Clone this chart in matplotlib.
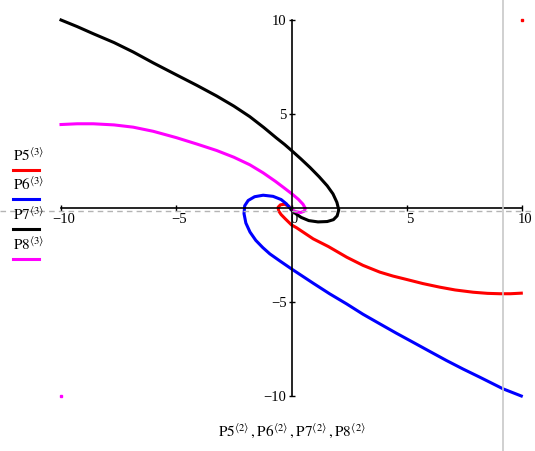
import numpy as np
import matplotlib.pyplot as plt
from matplotlib.lines import Line2D
from matplotlib.transforms import ScaledTranslation

plt.rcParams['font.family'] = ['Liberation Serif', 'DejaVu Serif']
plt.rcParams['mathtext.fontset'] = 'stix'

# curves (x, y)
p5_x = [0.0, -0.12, -0.3, -0.48, -0.58, -0.56, -0.45, -0.25, 0.0, 0.22, 0.94, 1.6, 2.4, 3.1, 3.83,
        4.4, 4.99, 5.7, 6.43, 7.1, 7.88, 8.5, 9.03, 9.5, 9.97]
p5_y = [-0.08, 0.1, 0.2, 0.17, 0.04, -0.15, -0.35, -0.6, -0.9, -1.05, -1.64, -2.05, -2.62, -3.05, -3.41,
        -3.62, -3.8, -4.02, -4.21, -4.36, -4.48, -4.54, -4.56, -4.56, -4.53]

p6_x = [0.0, -0.22, -0.45, -0.8, -1.23, -1.6, -1.88, -2.03, -2.06, -1.98, -1.8, -1.55, -1.25, -0.94,
        -0.5, 0.0, 0.94, 1.65, 2.39, 3.1, 3.83, 4.55, 5.27, 6.0, 6.72, 7.45, 8.17, 9.18, 9.97]
p6_y = [-0.1, 0.22, 0.45, 0.62, 0.68, 0.6, 0.4, 0.12, -0.3, -0.8, -1.28, -1.72, -2.1, -2.44,
        -2.82, -3.24, -4.0, -4.56, -5.1, -5.65, -6.16, -6.66, -7.14, -7.63, -8.11, -8.57, -9.0, -9.62, -10.0]

p7_x = [-10.0, -9.3, -8.6, -7.7, -6.87, -6.0, -4.99, -4.1, -3.25, -2.5, -1.81, -1.2, -0.65, -0.3, 0.0,
        0.4, 0.8, 1.2, 1.55, 1.8, 1.97, 2.05, 1.98, 1.82, 1.55, 1.15, 0.75, 0.42, 0.18, 0.05, 0.0]
p7_y = [10.0, 9.65, 9.27, 8.8, 8.3, 7.72, 7.08, 6.52, 5.96, 5.42, 4.86, 4.28, 3.72, 3.38, 3.06,
        2.62, 2.16, 1.66, 1.18, 0.75, 0.3, -0.1, -0.42, -0.62, -0.72, -0.74, -0.67, -0.5, -0.3, -0.15, -0.1]

p8_x = [-10.0, -9.3, -8.6, -7.7, -6.87, -6.0, -4.99, -4.1, -3.25, -2.5, -1.81, -1.23, -0.7, -0.3,
        0.05, 0.3, 0.5, 0.6, 0.55, 0.4, 0.2, 0.05]
p8_y = [4.44, 4.48, 4.48, 4.42, 4.3, 4.08, 3.74, 3.4, 3.06, 2.7, 2.3, 1.87, 1.42, 1.05,
        0.72, 0.46, 0.2, -0.02, -0.17, -0.24, -0.2, -0.12]

# single stray points
dot_red = (10, 10)
dot_mag = (-10, -10)

series = [('P5', p5_x, p5_y, '#ff0000'),
          ('P6', p6_x, p6_y, '#0000ff'),
          ('P7', p7_x, p7_y, '#000000'),
          ('P8', p8_x, p8_y, '#ff00ff')]

fig = plt.figure(figsize=(5.35, 4.51), dpi=100)
ax = fig.add_axes([61 / 535, 1 - 396 / 451, 461 / 535, 376 / 451])
ax.set_xlim(-10, 10)
ax.set_ylim(-10, 10)

for name, xs, ys, col in series:
    ax.plot(xs, ys, color=col, lw=2.2, clip_on=False, solid_joinstyle='round')

ax.plot(*dot_red, 's', color='#ff0000', ms=2, clip_on=False)
ax.plot(*dot_mag, 's', color='#ff00ff', ms=2, clip_on=False)

# axes through the origin, Mathcad style
for s in ['top', 'right']:
    ax.spines[s].set_visible(False)
ax.spines['left'].set_position(('data', 0))
ax.spines['bottom'].set_position(('data', 0))
ax.spines['left'].set_linewidth(1.2)
ax.spines['bottom'].set_linewidth(1.2)
ax.patch.set_visible(False)

ax.set_xticks([-10, -5, 0, 5, 10])
ax.set_xticklabels(['\u221210', '\u22125', '0', '5', '10'])
ax.set_yticks([-10, -5, 5, 10])
ax.set_yticklabels(['\u221210', '\u22125', '5', '10'])
ax.tick_params(axis='both', direction='inout', length=5, width=1, labelsize=10.5, pad=1)
for lab in ax.get_xticklabels():
    lab.set_transform(lab.get_transform() + ScaledTranslation(3 / 100, 0, fig.dpi_scale_trans))

# marker lines
fig.add_artist(Line2D([0, 1], [1 - 210.5 / 451] * 2, color='#b4b4b4', lw=1, ls=(0, (4, 3))))
fig.add_artist(Line2D([503.3 / 535] * 2, [0, 1], color='#c8c8c8', lw=1.2))

# legend on the left
leg_y = [161, 190, 220, 250]
for (name, xs, ys, col), yy in zip(series, leg_y):
    fig.text(13 / 535, 1 - yy / 451, r'$\mathrm{%s}^{\langle 3\rangle}$' % name,
             fontsize=11, va='baseline', ha='left')
    fig.add_artist(Line2D([13 / 535, 39 / 535], [1 - (yy + 9) / 451] * 2, color=col, lw=2.2))

fig.text(292 / 535, 1 - 437 / 451,
         r'$\mathrm{P5}^{\langle 2\rangle}\,,\mathrm{P6}^{\langle 2\rangle}\,,\mathrm{P7}^{\langle 2\rangle}\,,\mathrm{P8}^{\langle 2\rangle}$',
         fontsize=11, va='baseline', ha='center')

fig.savefig('out.png', dpi=100)
